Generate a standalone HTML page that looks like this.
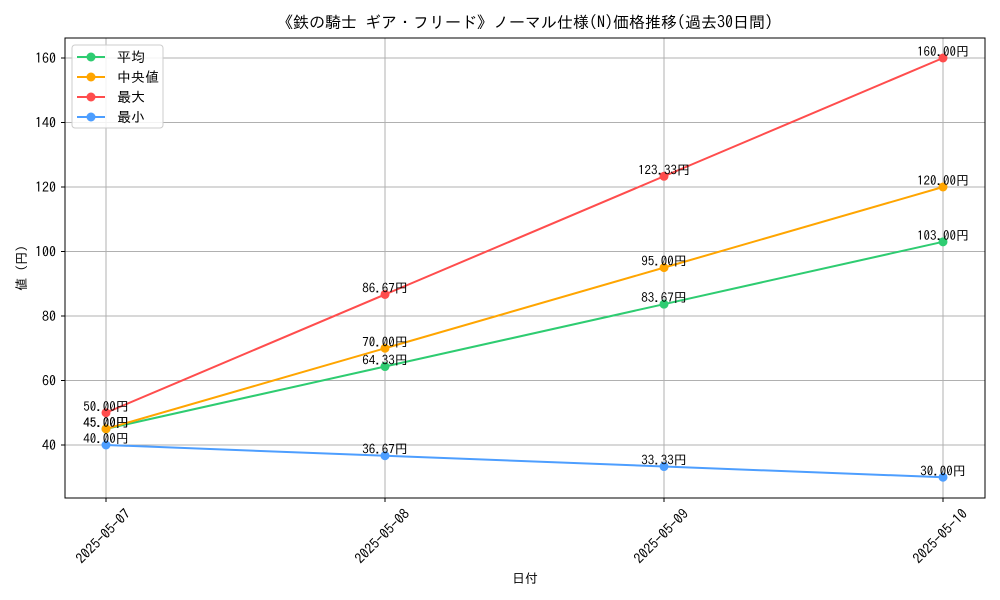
<!DOCTYPE html>
<html><head><meta charset="utf-8"><style>
body{margin:0;background:#fff;}
svg{display:block;font-family:"IPAGothic","Liberation Sans","Noto Sans CJK JP",sans-serif;}
</style></head><body>
<svg id="chart" width="1000" height="600"></svg>
<script>
const categories=["2025-05-07","2025-05-08","2025-05-09","2025-05-10"];
const avgValues=[45.00,64.33,83.67,103.00];
const medianValues=[45.00,70.00,95.00,120.00];
const maxValues=[50.00,86.67,123.33,160.00];
const minValues=[40.00,36.67,33.33,30.00];
const yTicks=[40,60,80,100,120,140,160];
const seriesNames=["平均","中央値","最大","最小"];
const seriesColors=["#2ecc71","#ffa500","#ff4d4d","#4d9eff"];

const svg=document.getElementById('chart');
const NS="http://www.w3.org/2000/svg";
const L=65,R=985,T=38,B=498;
const xs=i=>106+i*(943-106)/(categories.length-1);
const ys=v=>445-(v-40)*(445-58)/120;
function mk(tag,attrs,parent){const e=document.createElementNS(NS,tag);for(const k in attrs)e.setAttribute(k,attrs[k]);(parent||svg).appendChild(e);return e;}

categories.forEach((c,i)=>{
  const g=mk('line',{x1:xs(i),x2:xs(i),y1:T,y2:B,stroke:'#b0b0b0','stroke-width':1});
  
  
  const t=mk('line',{x1:xs(i),x2:xs(i),y1:B,y2:B+4,stroke:'#000'});
  
  
  const lb=mk('text',{x:0,y:0,'font-size':14,'text-anchor':'middle','dominant-baseline':'middle',transform:`translate(${xs(i)-2},${B+39}) rotate(-45)`});
  lb.textContent=c;
  
  
});
yTicks.forEach(v=>{
  const g=mk('line',{x1:L,x2:R,y1:ys(v),y2:ys(v),stroke:'#b0b0b0','stroke-width':1});
  
  
  const t=mk('line',{x1:L-4,x2:L,y1:ys(v),y2:ys(v),stroke:'#000'});
  
  
  const lb=mk('text',{x:L-9,y:ys(v)+5,'font-size':14,'text-anchor':'end'});
  lb.textContent=v;
  
  
});
const frame=mk('rect',{x:L,y:T,width:R-L,height:B-T,fill:'none',stroke:'#000','stroke-width':1});



const allSeries=[avgValues,medianValues,maxValues,minValues];
allSeries.forEach((vals,si)=>{
  const p=mk('polyline',{points:vals.map((v,i)=>xs(i)+','+ys(v)).join(' '),fill:'none',stroke:seriesColors[si],'stroke-width':2});
  
  
  vals.forEach((v,i)=>{
    const c=mk('circle',{cx:xs(i),cy:ys(v),r:4.5,fill:seriesColors[si]});
    
    
    const t=mk('text',{x:xs(i),y:ys(v)-2,'font-size':13,'text-anchor':'middle'});
    t.textContent=v.toFixed(2)+'円';
    
    
  });
});

const lg=mk('g',{});


mk('rect',{x:72,y:45,width:91,height:83,fill:'#fff','fill-opacity':0.85,stroke:'#ccc',rx:3},lg);
seriesNames.forEach((n,i)=>{
  const y=57+i*20;
  mk('line',{x1:77,x2:105,y1:y,y2:y,stroke:seriesColors[i],'stroke-width':2},lg);
  mk('circle',{cx:91,cy:y,r:4.5,fill:seriesColors[i]},lg);
  const t=mk('text',{x:117,y:y+5,'font-size':14},lg);
  t.textContent=n;
  
  
});

const title=mk('text',{x:525,y:28,'font-size':16,'text-anchor':'middle'});
title.textContent='《鉄の騎士 ギア・フリード》ノーマル仕様(N)価格推移(過去30日間)';


const xt=mk('text',{x:525,y:583,'font-size':13,'text-anchor':'middle'});
xt.textContent='日付';


const yt=mk('text',{x:0,y:0,'font-size':13,'text-anchor':'middle',transform:'translate(26,268) rotate(-90)'});
yt.textContent='値 (円)';


</script>
</body></html>
